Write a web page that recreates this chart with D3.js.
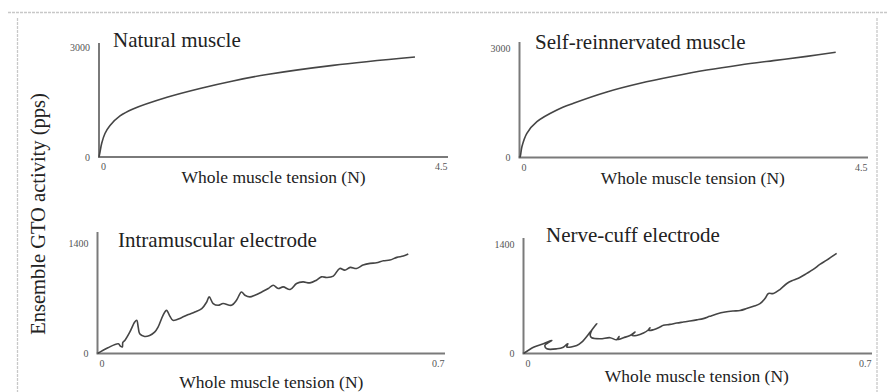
<!DOCTYPE html>
<html>
<head>
<meta charset="utf-8">
<script src="https://cdn.jsdelivr.net/npm/d3@7"></script>
<style>
  html, body { margin: 0; padding: 0; background: #fff; }
  svg { display: block; }
  .tick text { font-family: "Liberation Serif", "Times New Roman", serif; font-size: 10px; fill: #555; }
  .title { font-family: "Liberation Serif", "Times New Roman", serif; font-size: 21px; fill: #222; }
  .xtitle { font-family: "Liberation Serif", "Times New Roman", serif; font-size: 17.5px; fill: #222; }
  .ytitle { font-family: "Liberation Serif", "Times New Roman", serif; font-size: 20.5px; fill: #222; }
</style>
</head>
<body>
<script>
// Panel titles and shared labels
const panelTitles = ["Natural muscle", "Self-reinnervated muscle", "Intramuscular electrode", "Nerve-cuff electrode"];
const xAxisTitle = "Whole muscle tension (N)";
const yAxisTitle = "Ensemble GTO activity (pps)";

// Axis extents (N, pps) and tick labels per panel
const xMax = [4.5, 4.5, 0.7, 0.7];
const yMax = [3000, 3000, 1400, 1400];
const xTickLabels = [["0", "4.5"], ["0", "4.5"], ["0", "0.7"], ["0", "0.7"]];
const yTickLabels = [["0", "3000"], ["0", "3000"], ["0", "1400"], ["0", "1400"]];

// Natural muscle: tension (N) vs ensemble activity (pps)
const naturalTension  = [0, 0.013, 0.035, 0.077, 0.142, 0.271, 0.438, 0.877, 1.302, 1.728, 2.166, 3.017, 4.074];
const naturalActivity = [0, 136, 374, 640, 860, 1120, 1310, 1630, 1870, 2075, 2250, 2500, 2727];

// Self-reinnervated muscle
const reinnTension  = [0, 0.009, 0.031, 0.095, 0.225, 0.483, 0.697, 1.128, 1.558, 1.987, 2.418, 2.848, 3.278, 3.709, 4.083];
const reinnActivity = [0, 22, 296, 663, 981, 1301, 1485, 1795, 2033, 2225, 2395, 2535, 2655, 2770, 2882];

// Intramuscular electrode recording
const intraTension = [0, 0.021, 0.042, 0.046, 0.050, 0.051, 0.055, 0.065, 0.075, 0.079, 0.082, 0.085, 0.095, 0.105,
  0.115, 0.122, 0.132, 0.139, 0.146, 0.152, 0.169, 0.183, 0.196, 0.210, 0.220, 0.225, 0.233, 0.243, 0.253, 0.270,
  0.280, 0.290, 0.297, 0.307, 0.317, 0.331, 0.344, 0.354, 0.364, 0.374, 0.388, 0.401, 0.414, 0.428, 0.441, 0.451,
  0.462, 0.475, 0.488, 0.498, 0.509, 0.522, 0.535, 0.549, 0.562, 0.576, 0.589, 0.603, 0.616, 0.626];
const intraActivity = [0, 73, 123, 95, 83, 140, 165, 271, 398, 420, 335, 251, 216, 229,
  271, 335, 484, 547, 471, 420, 454, 493, 526, 569, 653, 717, 633, 611, 633, 611,
  675, 780, 738, 717, 738, 780, 823, 865, 823, 844, 811, 887, 907, 895, 929, 971,
  963, 980, 1078, 1056, 1091, 1078, 1120, 1142, 1149, 1175, 1184, 1218, 1235, 1260];

// Nerve-cuff electrode recording
const cuffTension = [0, 0.020, 0.040, 0.057, 0.043, 0.047, 0.067, 0.080, 0.089, 0.087, 0.107, 0.117, 0.134, 0.147,
  0.137, 0.134, 0.137, 0.154, 0.174, 0.187, 0.192, 0.190, 0.201, 0.214, 0.224, 0.218, 0.227, 0.241, 0.251, 0.254,
  0.252, 0.261, 0.274, 0.281, 0.294, 0.308, 0.321, 0.334, 0.348, 0.361, 0.374, 0.388, 0.405, 0.421, 0.435, 0.448,
  0.462, 0.475, 0.485, 0.492, 0.502, 0.515, 0.529, 0.542, 0.555, 0.569, 0.582, 0.596, 0.609, 0.629];
const cuffActivity = [0, 81, 125, 167, 103, 60, 60, 81, 125, 83, 103, 145, 274, 381,
  295, 231, 202, 189, 202, 176, 218, 180, 202, 231, 274, 231, 231, 261, 304, 330,
  295, 304, 338, 360, 372, 389, 402, 415, 430, 446, 475, 505, 530, 543, 550, 574,
  604, 638, 703, 767, 767, 818, 895, 938, 972, 1024, 1075, 1143, 1194, 1281];

const seriesX = [naturalTension, reinnTension, intraTension, cuffTension];
const seriesY = [naturalActivity, reinnActivity, intraActivity, cuffActivity];

// Pixel frame of each panel: origin, x-axis end, y position of the top tick, top of the vertical axis line
const frames = [
  { x0: 99,    x1: 448, y0: 157,   yTop: 47,  axisTop: 43,  titleX: 113, titleY: 47,  xtY: 183 },
  { x0: 519.5, x1: 868, y0: 157.5, yTop: 48,  axisTop: 42,  titleX: 535, titleY: 49,  xtY: 184 },
  { x0: 97.5,  x1: 445, y0: 353.5, yTop: 243, axisTop: 232, titleX: 118, titleY: 247, xtY: 388 },
  { x0: 523.5, x1: 872, y0: 353.5, yTop: 244, axisTop: 238, titleX: 546, titleY: 242, xtY: 382 }
];

const W = 888, H = 392;
const svg = d3.select("body").append("svg").attr("width", W).attr("height", H);

// dotted page frame
const frameG = svg.append("g").attr("fill", "none").attr("stroke", "#c8c8c8")
  .attr("stroke-width", 1.3).attr("stroke-dasharray", "3 1");
frameG.append("line").attr("x1", 8).attr("x2", W).attr("y1", 12.5).attr("y2", 12.5);
frameG.append("line").attr("x1", 17.5).attr("x2", 17.5).attr("y1", 18).attr("y2", H);
frameG.append("line").attr("x1", 877).attr("x2", 877).attr("y1", 18).attr("y2", H);

frames.forEach((f, i) => {
  const x = d3.scaleLinear().domain([0, xMax[i]]).range([f.x0, f.x1]);
  const y = d3.scaleLinear().domain([0, yMax[i]]).range([f.y0, f.yTop]);
  const g = svg.append("g");

  // axis lines
  g.append("line").attr("x1", f.x0).attr("x2", f.x0).attr("y1", f.axisTop).attr("y2", f.y0)
    .attr("stroke", "#7a7a7a").attr("stroke-width", 2);
  g.append("line").attr("x1", f.x0 - 1).attr("x2", f.x1).attr("y1", f.y0).attr("y2", f.y0)
    .attr("stroke", "#7a7a7a").attr("stroke-width", 2);

  // y ticks
  const yAxis = d3.axisLeft(y).tickValues([0, yMax[i]]).tickSize(0).tickPadding(9)
    .tickFormat((d, k) => yTickLabels[i][k]);
  g.append("g").attr("transform", `translate(${f.x0},0)`).call(yAxis)
    .call(s => s.select(".domain").remove());

  // x ticks
  const xAxis = d3.axisBottom(x).tickValues([0, xMax[i]]).tickSize(0).tickPadding(6)
    .tickFormat((d, k) => xTickLabels[i][k]);
  g.append("g").attr("transform", `translate(0,${f.y0})`).call(xAxis)
    .call(s => s.select(".domain").remove())
    .call(s => s.selectAll(".tick text")
      .attr("text-anchor", (d, k) => k === 0 ? "middle" : "end")
      .attr("dx", (d, k) => k === 0 ? 4 : -1));

  // data curve
  const pts = seriesX[i].map((v, k) => [v, seriesY[i][k]]);
  const line = d3.line().x(d => x(d[0])).y(d => y(d[1]))
    .curve(d3.curveCatmullRom.alpha(0.5));
  g.append("path").datum(pts).attr("d", line)
    .attr("fill", "none").attr("stroke", "#454545").attr("stroke-width", 1.6)
    .attr("stroke-linejoin", "round");

  // titles
  g.append("text").attr("class", "title").attr("x", f.titleX).attr("y", f.titleY).text(panelTitles[i]);
  g.append("text").attr("class", "xtitle").attr("text-anchor", "middle")
    .attr("x", (f.x0 + f.x1) / 2 + (i % 2 === 0 ? 0 : -1)).attr("y", f.xtY).text(xAxisTitle);
});

// shared y-axis title
svg.append("text").attr("class", "ytitle").attr("text-anchor", "middle")
  .attr("transform", "translate(45,214) rotate(-90)").text(yAxisTitle);
</script>
</body>
</html>
